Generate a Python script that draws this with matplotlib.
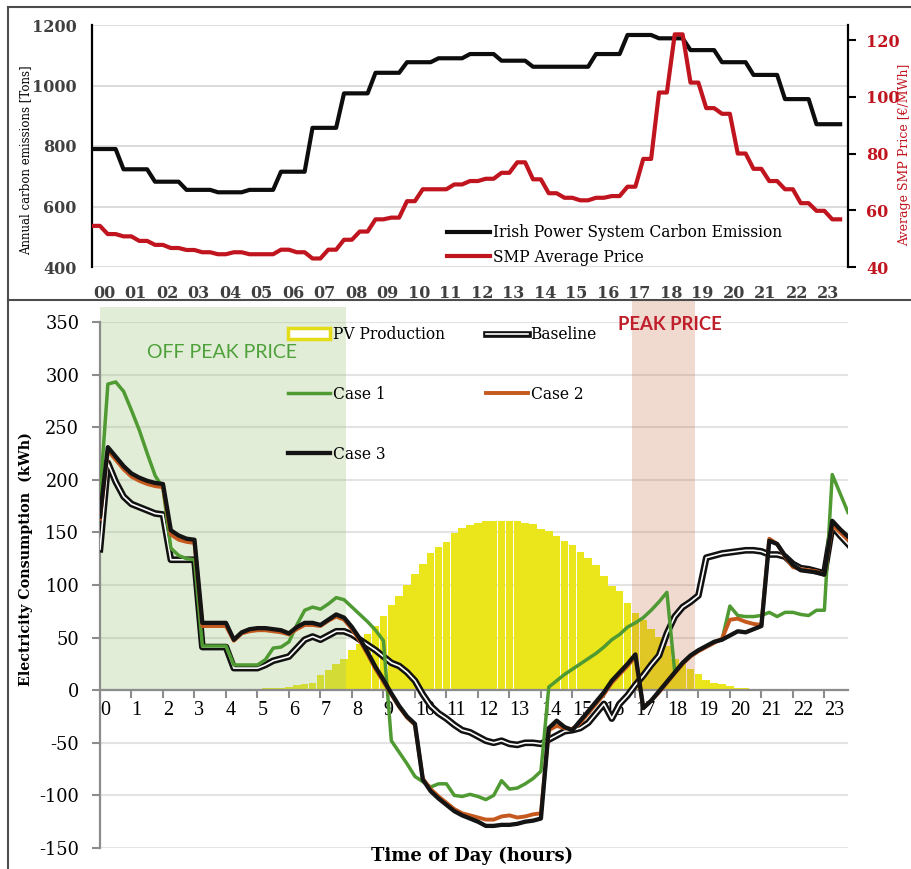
import numpy as np
import matplotlib.pyplot as plt
import matplotlib.patheffects as pe
from matplotlib.patches import Patch, Rectangle
from matplotlib.lines import Line2D

plt.rcParams['font.family'] = 'DejaVu Serif'
plt.rcParams['axes.unicode_minus'] = False

W, H = 912, 869

# ---- top panel: system carbon emission and SMP price ----
hour_labels = [f"{h:02d}" for h in range(24)]

# hourly carbon emission [Tons]
carbon = [790, 723, 682, 655, 647, 655, 715, 860, 974, 1042, 1077, 1090,
          1104, 1082, 1062, 1062, 1104, 1167, 1156, 1117, 1077, 1035, 955, 872]

# half-hourly SMP average price [EUR/MWh]
smp = [54.5, 51.6, 50.8, 49.2, 47.8, 46.7, 46.0, 45.2,
       44.5, 45.2, 44.5, 44.5, 46.1, 45.2, 43.0, 46.1,
       49.6, 52.5, 56.8, 57.4, 63.2, 67.4, 67.4, 69.1,
       70.3, 71.1, 73.2, 76.9, 70.9, 66.0, 64.4, 63.5,
       64.4, 65.0, 68.3, 78.1, 101.5, 122.0, 105.0, 96.0,
       94.0, 80.0, 74.6, 70.3, 67.4, 62.5, 59.8, 56.8]

# ---- bottom panel: 15 minute consumption profiles (kWh) ----
t = np.arange(96) * 0.25

pv = [0, 0, 0, 0, 0, 0, 0, 0,
      0, 0, 0, 0, 0, 0, 0, 0,
      0, 0, 0, 0, 0, 2.5, 2.5, 2.5,
      3.2, 4.8, 5.7, 7, 14.3, 19, 24.7, 30,
      38, 44, 53.5, 61.5, 71, 81, 90, 100,
      110, 120, 130, 136, 141, 149, 154.5, 157,
      159, 161, 161, 161, 161, 161, 159, 158,
      153, 151, 147, 142, 138, 131.5, 125.5, 119,
      109, 99, 94.5, 82.5, 73, 67, 58.5, 50.5,
      42, 30, 24.7, 19.7, 15.2, 9.5, 7, 5.5,
      3.8, 2.5, 2.5, 0, 0, 0, 0, 0,
      0, 0, 0, 0, 0, 0, 0, 0]

baseline = [134, 216, 198, 184, 177, 174, 171, 168,
            167, 124, 124, 124, 124, 41, 41, 41,
            41, 21, 21, 21, 21, 24, 28, 30,
            32, 40, 48, 51, 48, 52, 56, 56,
            53, 48, 43, 38, 32, 26, 23, 17,
            9, -4, -15, -22, -27, -33, -38, -40,
            -44, -48, -50, -48, -51, -52, -50, -50,
            -51, -47, -43, -39, -38, -36, -31, -22,
            -13, -27, -13, -5, 5, 14, 24, 33,
            54, 70, 79, 84, 90, 126, 128, 130,
            131, 132, 133, 133, 132, 129, 129, 127,
            120, 116, 115, 113, 111, 156, 147, 139]

case1 = [185, 291, 293, 284, 266, 247, 225, 204,
         192, 135, 128, 125, 124, 42, 42, 42,
         42, 24, 24, 24, 24, 29, 40, 41,
         46, 62, 76, 79, 77, 82, 88, 86,
         79, 72, 65, 57, 47, -48, -59, -70,
         -82, -87, -92, -89, -89, -100, -101, -99,
         -101, -104, -100, -86, -94, -93, -89, -84,
         -77, 3, 9, 15, 20, 25, 30, 35,
         41, 48, 53, 60, 64, 69, 76, 84,
         93, 17, 26, 33, 38, 42, 46, 48,
         80, 71, 70, 70, 71, 74, 70, 74,
         74, 72, 71, 76, 76, 205, 187, 169]

case2 = [163, 228, 219, 210, 203, 199, 196, 194,
         193, 148, 143, 141, 140, 61, 61, 61,
         61, 47, 54, 56, 57, 57, 56, 55,
         53, 58, 62, 62, 61, 66, 70, 67,
         58, 47, 34, 20, 8, -4, -16, -26,
         -33, -84, -94, -101, -107, -113, -117, -119,
         -121, -123, -123, -120, -119, -121, -120, -118,
         -117, -38, -34, -36, -37, -31, -22, -13,
         -4, 7, 15, 23, 32, -17, -10, -2,
         7, 16, 25, 32, 37, 41, 45, 49,
         67, 68, 65, 63, 62, 144, 139, 127,
         117, 115, 114, 113, 110, 157, 150, 143]

case3 = [165, 231, 222, 213, 206, 202, 199, 197,
         196, 152, 147, 144, 143, 64, 64, 64,
         64, 48, 55, 58, 59, 59, 58, 57,
         54, 60, 64, 64, 62, 67, 72, 69,
         60, 49, 36, 22, 10, -3, -15, -25,
         -32, -85, -96, -103, -109, -115, -119, -122,
         -125, -129, -129, -128, -128, -127, -125, -124,
         -122, -36, -29, -35, -38, -29, -20, -11,
         -2, 9, 17, 25, 34, -17, -10, -1,
         8, 17, 26, 33, 38, 42, 46, 48,
         52, 56, 55, 58, 61, 142, 139, 128,
         119, 114, 113, 112, 110, 161, 153, 146]

off_peak = (0, 7.8)
peak = (16.9, 18.9)

RED = '#c0141e'
GREEN = '#4f9a32'
ORANGE = '#c65a1e'
YELLOW = '#ebe51b'

fig = plt.figure(figsize=(W / 100, H / 100), dpi=100)

# ---------------- top chart ----------------
ax1 = fig.add_axes([92 / W, 1 - 267 / H, 756 / W, 242 / H])
tq = np.arange(96) * 0.25
ax1.plot(tq, np.repeat(carbon, 4), color='#0d0d0d', lw=3.0, zorder=3,
         label='Irish Power System Carbon Emission')
ax1.set_xlim(0, 24)
ax1.set_ylim(400, 1200)
ax1.set_yticks(range(400, 1201, 200))
ax1.grid(axis='y', color='#d9d9d9', lw=1.3)
ax1.set_axisbelow(True)
for s in ['top', 'right', 'bottom']:
    ax1.spines[s].set_visible(False)
ax1.spines['left'].set_linewidth(1.6)
ax1.tick_params(axis='y', length=0, pad=11, labelsize=11.5, labelcolor='#404040')
ax1.set_xticks(np.arange(24) + 0.38)
ax1.set_xticklabels(hour_labels)
ax1.tick_params(axis='x', length=0, pad=13, labelsize=11.5, labelcolor='#404040')
plt.setp(ax1.get_xticklabels() + ax1.get_yticklabels(), fontweight='bold')

ax2 = ax1.twinx()
ax2.plot(tq, np.repeat(smp, 2), color=RED, lw=3.0, zorder=3, label='SMP Average Price')
ax2.set_ylim(40.35, 125.3)
ax2.set_yticks(range(40, 121, 20))
for s in ['top', 'left', 'bottom']:
    ax2.spines[s].set_visible(False)
ax2.spines['right'].set_linewidth(1.6)
ax2.tick_params(axis='y', length=6, width=1.5, pad=7, labelsize=11.5, labelcolor=RED)
plt.setp(ax2.get_yticklabels(), fontweight='bold')

h1, l1 = ax1.get_legend_handles_labels()
h2, l2 = ax2.get_legend_handles_labels()
ax2.legend(h1 + h2, l1 + l2, loc='upper left', frameon=False, fontsize=11.2,
           bbox_to_anchor=(447 / W, 1 - 224 / H), bbox_transform=fig.transFigure,
           borderpad=0, borderaxespad=0, handlelength=2.75, handletextpad=0.2,
           labelspacing=0.5)

fig.text(26 / W, 1 - 160 / H, 'Annual carbon emissions [Tons]', rotation=90,
         ha='center', va='center', fontsize=8.5)
fig.text(898 / W, 1 - 155 / H, 'Average SMP Price [€/MWh]', rotation=90,
         ha='left', va='center', fontsize=9, color=RED)

# ---------------- bottom chart ----------------
axb = fig.add_axes([100 / W, 1 - 848 / H, 748 / W, 526 / H])
axb.set_xlim(0, 23.75)
axb.set_ylim(-150, 350)
axb.set_yticks(range(-150, 351, 50))
axb.grid(axis='y', color='#e3e3e3', lw=1.5)
axb.set_axisbelow(True)

axb.bar(t, pv, width=0.24, color=YELLOW, zorder=1)

axb.add_patch(Rectangle((off_peak[0], 0), off_peak[1] - off_peak[0], 364,
                        facecolor=(0.61, 0.77, 0.47), alpha=0.3, lw=0,
                        zorder=1.5, clip_on=False))
axb.add_patch(Rectangle((peak[0], 0), peak[1] - peak[0], 371,
                        facecolor=(0.78, 0.43, 0.27), alpha=0.25, lw=0,
                        zorder=1.5, clip_on=False))

axb.plot(t, baseline, color='white', lw=1.2, zorder=3, label='Baseline',
         path_effects=[pe.Stroke(linewidth=4.8, foreground='#111111'), pe.Normal()])
axb.plot(t, case1, color=GREEN, lw=2.5, zorder=4, label='Case 1')
axb.plot(t, case2, color=ORANGE, lw=2.8, zorder=5, label='Case 2')
axb.plot(t, case3, color='#141414', lw=3.1, zorder=6, label='Case 3')

for s in ['top', 'right']:
    axb.spines[s].set_visible(False)
axb.spines['left'].set_color('#8c8c8c')
axb.spines['left'].set_linewidth(1.6)
axb.spines['bottom'].set_position(('data', 0))
axb.spines['bottom'].set_color('#8c8c8c')
axb.spines['bottom'].set_linewidth(1.6)
axb.spines['bottom'].set_zorder(2)

axb.tick_params(axis='y', length=6, width=1.5, color='#8c8c8c', pad=9, labelsize=12.8)
axb.set_xticks(range(24))
axb.set_xticklabels([str(h) for h in range(24)], fontfamily='Liberation Serif',
                    fontsize=14.5, ha='left')
axb.tick_params(axis='x', length=6, width=1.5, color='#8c8c8c', pad=2)

hd = {l: h for h, l in zip(*axb.get_legend_handles_labels())}
pv_handle = Patch(facecolor='white', edgecolor='#e3dc17', linewidth=2.5)
axb.legend([pv_handle, hd['Case 1'], hd['Case 3'], hd['Baseline'], hd['Case 2']],
           ['PV Production', 'Case 1', 'Case 3', 'Baseline', 'Case 2'],
           ncol=2, loc='upper left', frameon=False, fontsize=11.2,
           bbox_to_anchor=(288 / W, 1 - 326 / H), bbox_transform=fig.transFigure,
           borderpad=0, borderaxespad=0, handlelength=2.7, handletextpad=0.2,
           labelspacing=2.75, columnspacing=2.6)

axb.text(3.87, 321, 'OFF PEAK PRICE', color='#4ea03a', fontfamily='Lato',
         fontsize=14, ha='center', va='center', zorder=7)
axb.text(18.1, 348, 'PEAK PRICE', color='#bf1e2a', fontfamily='Lato',
         fontweight='bold', fontsize=13.3, ha='center', va='center', zorder=7)

fig.text(26 / W, 1 - 559 / H, 'Electricity Consumption  (kWh)', rotation=90,
         ha='center', va='center', fontsize=10.3, fontweight='bold')
fig.text(472 / W, 1 - 856 / H, 'Time of Day (hours)', ha='center', va='center',
         fontsize=13, fontweight='bold')

# panel frames
frame = dict(transform=fig.transFigure, color='#4d4d4d', lw=1.5)
fig.add_artist(Line2D([8 / W, 8 / W], [1 - 7 / H, 0], **frame))
fig.add_artist(Line2D([8 / W, 1], [1 - 7 / H, 1 - 7 / H], **frame))
fig.add_artist(Line2D([8 / W, 1], [1 - 300 / H, 1 - 300 / H], **frame))

fig.savefig('out.png', dpi=100)
